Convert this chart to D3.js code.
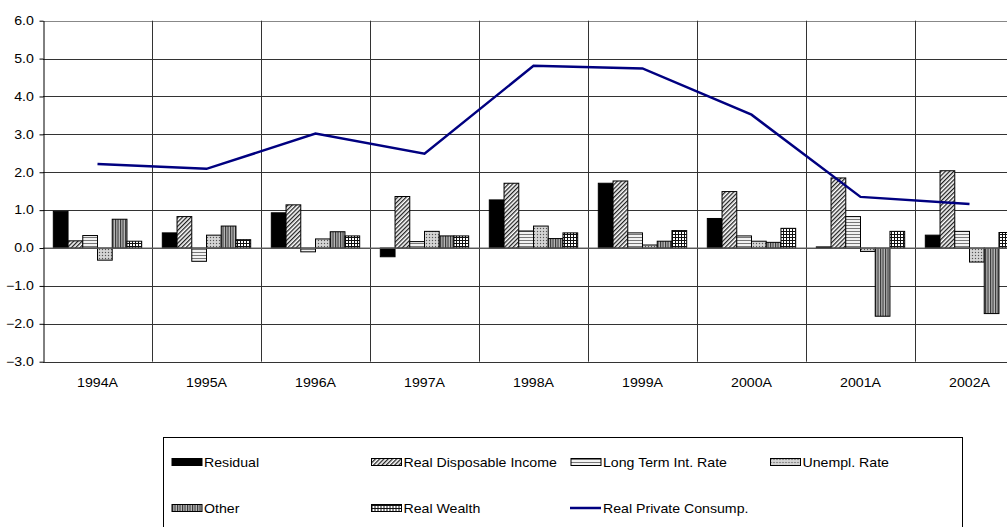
<!DOCTYPE html>
<html>
<head>
<meta charset="utf-8">
<script src="https://cdn.jsdelivr.net/npm/d3@7"></script>
<style>
  body { margin: 0; background: #fff; }
  svg { display: block; font-family: "Liberation Sans", Arial, sans-serif; }
</style>
</head>
<body>
<svg id="chart" width="1007" height="527"></svg>
<script>
const years = ["1994A", "1995A", "1996A", "1997A", "1998A", "1999A", "2000A", "2001A", "2002A"];

const residual      = [0.97, 0.40, 0.93, -0.23, 1.27, 1.71, 0.78, 0.03, 0.34];
const realDispInc   = [0.19, 0.83, 1.14, 1.36, 1.71, 1.77, 1.49, 1.85, 2.04];
const longTermRate  = [0.33, -0.35, -0.10, 0.17, 0.45, 0.40, 0.32, 0.83, 0.44];
const unemplRate    = [-0.32, 0.34, 0.24, 0.44, 0.58, 0.08, 0.18, -0.09, -0.37];
const other         = [0.76, 0.58, 0.43, 0.32, 0.25, 0.18, 0.15, -1.80, -1.73];
const realWealth    = [0.18, 0.22, 0.32, 0.32, 0.40, 0.46, 0.52, 0.44, 0.41];
const realPrivCons  = [2.22, 2.09, 3.02, 2.49, 4.81, 4.74, 3.52, 1.35, 1.16];

const yTicks = [-3, -2, -1, 0, 1, 2, 3, 4, 5, 6];

const barSeries = [
    { name: "Residual", values: residual, fill: "#000" },
    { name: "Real Disposable Income", values: realDispInc, fill: "url(#p-diag)" },
    { name: "Long Term Int. Rate", values: longTermRate, fill: "url(#p-horiz)" },
    { name: "Unempl. Rate", values: unemplRate, fill: "url(#p-dots)" },
    { name: "Other", values: other, fill: "url(#p-vert)" },
    { name: "Real Wealth", values: realWealth, fill: "url(#p-grid)" }
];

const svg = d3.select("#chart");
const stretch = "scale(1.18,1)";
const fontSize = "12px";

// patterns
const defs = svg.append("defs");

const diag = defs.append("pattern").attr("id", "p-diag")
    .attr("patternUnits", "userSpaceOnUse").attr("width", 3).attr("height", 3)
    .attr("patternTransform", "rotate(45)");
diag.append("rect").attr("width", 3).attr("height", 3).attr("fill", "#fff");
diag.append("rect").attr("width", 1.3).attr("height", 3).attr("fill", "#222");

const horiz = defs.append("pattern").attr("id", "p-horiz")
    .attr("patternUnits", "userSpaceOnUse").attr("width", 4).attr("height", 3);
horiz.append("rect").attr("width", 4).attr("height", 3).attr("fill", "#f2f2f2");
horiz.append("rect").attr("width", 4).attr("height", 1).attr("fill", "#777");

const dots = defs.append("pattern").attr("id", "p-dots")
    .attr("patternUnits", "userSpaceOnUse").attr("width", 3).attr("height", 3);
dots.append("rect").attr("width", 3).attr("height", 3).attr("fill", "#c8c8c8");
dots.append("rect").attr("width", 1).attr("height", 1).attr("fill", "#555");
dots.append("rect").attr("x", 1.5).attr("y", 1.5).attr("width", 1).attr("height", 1).attr("fill", "#fff");

const vert = defs.append("pattern").attr("id", "p-vert")
    .attr("patternUnits", "userSpaceOnUse").attr("width", 2.5).attr("height", 4);
vert.append("rect").attr("width", 2.5).attr("height", 4).attr("fill", "#bbb");
vert.append("rect").attr("width", 1.1).attr("height", 4).attr("fill", "#333");

const grid = defs.append("pattern").attr("id", "p-grid")
    .attr("patternUnits", "userSpaceOnUse").attr("width", 3).attr("height", 3);
grid.append("rect").attr("width", 3).attr("height", 3).attr("fill", "#fff");
grid.append("rect").attr("width", 3).attr("height", 1).attr("fill", "#111");
grid.append("rect").attr("width", 1).attr("height", 3).attr("fill", "#111");

// scales
const left = 43, catW = 109;
const x = d3.scaleBand()
    .domain(years)
    .range([left, left + catW * years.length]);

const xInner = d3.scaleBand()
    .domain(barSeries.map(d => d.name))
    .range([0, x.bandwidth()])
    .paddingOuter(0.7);

const y = d3.scaleLinear()
    .domain([-3, 6])
    .range([361.7, 20.7]);

// gridlines
svg.append("g")
    .selectAll("line")
    .data(yTicks)
    .join("line")
    .attr("x1", left)
    .attr("x2", x.range()[1])
    .attr("y1", d => Math.round(y(d)) + 0.5)
    .attr("y2", d => Math.round(y(d)) + 0.5)
    .attr("stroke", d => d === 6 ? "#888" : "#333")
    .attr("stroke-width", 1);

svg.append("g")
    .selectAll("line")
    .data(years.slice(1))
    .join("line")
    .attr("x1", d => Math.round(x(d)) + 0.5)
    .attr("x2", d => Math.round(x(d)) + 0.5)
    .attr("y1", y(6))
    .attr("y2", y(-3))
    .attr("stroke", "#333")
    .attr("stroke-width", 1);

// bars
const groups = svg.append("g")
    .selectAll("g")
    .data(barSeries)
    .join("g")
    .attr("fill", d => d.fill);

groups.selectAll("rect")
    .data(s => s.values.map((v, i) => ({ name: s.name, year: years[i], v })))
    .join("rect")
    .attr("x", d => x(d.year) + xInner(d.name))
    .attr("y", d => y(Math.max(0, d.v)))
    .attr("width", xInner.bandwidth())
    .attr("height", d => Math.abs(y(d.v) - y(0)))
    .attr("stroke", "#000")
    .attr("stroke-width", 1);

// zero line
svg.append("line")
    .attr("x1", left)
    .attr("x2", x.range()[1])
    .attr("y1", y(0))
    .attr("y2", y(0))
    .attr("stroke", "#666")
    .attr("stroke-width", 1.2);

// line series
const lineGen = d3.line()
    .x((d, i) => x(years[i]) + x.bandwidth() / 2)
    .y(d => y(d));

svg.append("path")
    .attr("d", lineGen(realPrivCons))
    .attr("fill", "none")
    .attr("stroke", "#000080")
    .attr("stroke-width", 2.5);

// y axis
const yAxis = svg.append("g")
    .attr("transform", `translate(${left + 0.5},0)`)
    .call(d3.axisLeft(y).tickValues(yTicks).tickFormat(d3.format(".1f"))
        .tickSizeInner(4).tickSizeOuter(0).tickPadding(4.2));
yAxis.select(".domain").attr("stroke", "#000");
yAxis.selectAll(".tick line").attr("stroke", "#000");
yAxis.selectAll(".tick text")
    .attr("fill", "#000")
    .style("font-size", fontSize)
    .attr("transform", stretch);

// x labels
svg.append("g")
    .selectAll("text")
    .data(years)
    .join("text")
    .attr("transform", d => `translate(${x(d) + x.bandwidth() / 2},387) ${stretch}`)
    .attr("text-anchor", "middle")
    .style("font-size", fontSize)
    .text(d => d);

// legend
svg.append("rect")
    .attr("x", 163.5)
    .attr("y", 437.5)
    .attr("width", 799)
    .attr("height", 120)
    .attr("fill", "#fff")
    .attr("stroke", "#000")
    .attr("stroke-width", 1);

const legendItems = barSeries.map(d => ({ name: d.name, fill: d.fill, kind: "bar" }))
    .concat([{ name: "Real Private Consump.", kind: "line" }]);

const legend = svg.append("g")
    .selectAll("g")
    .data(legendItems)
    .join("g")
    .attr("transform", (d, i) => `translate(${172 + (i % 4) * 199.5},${i < 4 ? 462 : 508})`);

legend.filter(d => d.kind === "bar")
    .append("rect")
    .attr("x", 0)
    .attr("y", -3.5)
    .attr("width", 30)
    .attr("height", 7)
    .attr("fill", d => d.fill)
    .attr("stroke", "#000")
    .attr("stroke-width", 1);

legend.filter(d => d.kind === "line")
    .append("line")
    .attr("x1", -1)
    .attr("x2", 30)
    .attr("stroke", "#000080")
    .attr("stroke-width", 2.5);

legend.append("text")
    .attr("transform", `translate(32,4.5) ${stretch}`)
    .style("font-size", fontSize)
    .text(d => d.name);
</script>
</body>
</html>
